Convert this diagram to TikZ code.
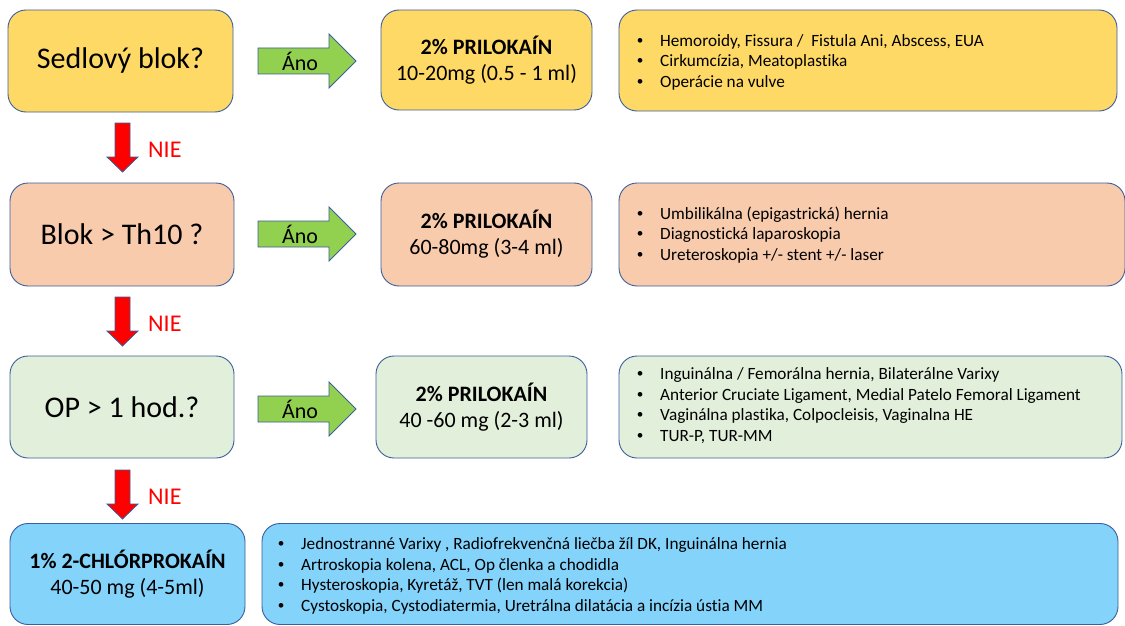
\documentclass[tikz,border=0pt]{standalone}
\usepackage{fontspec}
\setmainfont{Carlito}[RawFeature={-liga;-clig;-calt;-dlig}]
\newfontfamily\bulletfont{Liberation Sans}
\definecolor{bd}{HTML}{3B5E9C}
\definecolor{yel}{HTML}{FFD966}
\definecolor{peach}{HTML}{F8CBAD}
\definecolor{lgreen}{HTML}{E2EFDA}
\definecolor{lblue}{HTML}{83D3FB}
\definecolor{agreen}{HTML}{92D050}
\newcommand{\GreenArr}[2]{%
  \draw[garrow] (258,{#1-13}) -- (329,{#1-13}) -- (329,{#1-27}) -- (356,#1) -- (329,{#1+27}) -- (329,{#1+13}) -- (258,{#1+13}) -- cycle;
  \node[anolabel] (#2) at (300,#1) {Áno};}
\newcommand{\RedArr}[2]{%
  \draw[rarrow] (115,#1) -- (130,#1) -- (130,{#1+34}) -- (138,{#1+34}) -- (122.5,{#1+49}) -- (107,{#1+34}) -- (115,{#1+34}) -- cycle;
  \node[nielabel] (#2) at (148,{#1+27}) {NIE};}
\newcommand{\itm}[1]{\makebox[23pt][l]{\bulletfont •}#1}
\tikzset{
  box/.style={draw=bd, line width=0.9pt, rounded corners=18pt, inner sep=0pt},
  garrow/.style={draw=bd, line width=0.8pt, fill=agreen},
  rarrow/.style={draw=bd, line width=0.8pt, fill=red},
  anolabel/.style={font=\fontsize{22}{24}\selectfont, inner sep=0pt},
  nielabel/.style={font=\fontsize{24}{26}\selectfont, text=red, anchor=west, inner sep=0pt},
  qtext/.style={font=\fontsize{30}{34}\selectfont},
  dtext/.style={font=\fontsize{22}{26}\selectfont, align=center},
  list/.style={font=\fontsize{17.2}{20.5}\selectfont, align=left, anchor=west, inner sep=0pt},
}
\begin{document}
\begin{tikzpicture}[x=1pt,y=-1pt]
\useasboundingbox (0,0) rectangle (1125,626);
% row 1
\node[box, fill=yel, minimum width=225pt, minimum height=102pt] (q1) at (120.5,61) {};
\node[qtext] at (q1.center) {Sedlový blok?};
\node[box, fill=yel, minimum width=211pt, minimum height=100pt] (d1) at (486.5,60) {};
\node[dtext] at (d1.center) {\textbf{2\% PRILOKAÍN}\\10-20mg (0.5 - 1 ml)};
\node[box, fill=yel, minimum width=498pt, minimum height=101pt] (l1) at (868,60.5) {};
\node[list] (t1) at (637,62) {\itm{Hemoroidy, Fissura /\ \ Fistula Ani, Abscess, EUA}\\\itm{Cirkumcízia, Meatoplastika}\\\itm{Operácie na vulve}};
\GreenArr{61}{a1}
\RedArr{123}{n1}
% row 2
\node[box, fill=peach, minimum width=224pt, minimum height=103pt] (q2) at (122,234.5) {};
\node[qtext] at (q2.center) {Blok > Th10 ?};
\node[box, fill=peach, minimum width=211pt, minimum height=103pt] (d2) at (486.5,234.5) {};
\node[dtext] at (d2.center) {\textbf{2\% PRILOKAÍN}\\60-80mg (3-4 ml)};
\node[box, fill=peach, minimum width=506pt, minimum height=103pt] (l2) at (872,234.5) {};
\node[list] (t2) at (637,235) {\itm{Umbilikálna (epigastrická) hernia}\\\itm{Diagnostická laparoskopia}\\\itm{Ureteroskopia +/- stent +/- laser}};
\GreenArr{234}{a2}
\RedArr{297}{n2}
% row 3
\node[box, fill=lgreen, minimum width=224pt, minimum height=102pt] (q3) at (122,407) {};
\node[qtext] at (q3.center) {OP > 1 hod.?};
\node[box, fill=lgreen, minimum width=211pt, minimum height=102pt] (d3) at (481.5,407) {};
\node[dtext] at (d3.center) {\textbf{2\% PRILOKAÍN}\\40 -60 mg (2-3 ml)};
\node[box, fill=lgreen, minimum width=503pt, minimum height=102pt] (l3) at (870.5,407) {};
\node[list] (t3) at (637,405.5) {\itm{Inguinálna / Femorálna hernia, Bilaterálne Varixy}\\\itm{Anterior Cruciate Ligament, Medial Patelo Femoral Ligament}\\\itm{Vaginálna plastika, Colpocleisis, Vaginalna HE}\\\itm{TUR-P, TUR-MM}};
\GreenArr{409}{a3}
\RedArr{470}{n3}
% row 4
\node[box, fill=lblue, minimum width=235pt, minimum height=101pt] (d4) at (127.5,574) {};
\node[dtext] at (d4.center) {\textbf{1\% 2-CHLÓRPROKAÍN}\\40-50 mg (4-5ml)};
\node[box, fill=lblue, minimum width=856pt, minimum height=101pt] (l4) at (690,574) {};
\node[list] (t4) at (278,576) {\itm{Jednostranné Varixy , Radiofrekvenčná liečba žíl DK, Inguinálna hernia}\\\itm{Artroskopia kolena, ACL, Op členka a chodidla}\\\itm{Hysteroskopia, Kyretáž, TVT (len malá korekcia)}\\\itm{Cystoskopia, Cystodiatermia, Uretrálna dilatácia a incízia ústia MM}};
\end{tikzpicture}
\end{document}
